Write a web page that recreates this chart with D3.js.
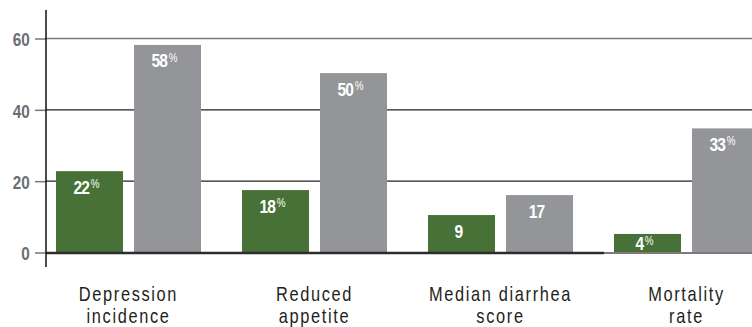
<!DOCTYPE html>
<html>
<head>
<meta charset="utf-8">
<script src="https://cdn.jsdelivr.net/npm/d3@7"></script>
<style>
  body { margin: 0; background: #fff; }
  svg { display: block; }
</style>
</head>
<body>
<div id="chart"></div>
<script>
// categories, two lines each
categories = ["Depression incidence", "Reduced appetite", "Median diarrhea score", "Mortality rate"]
categoryLines = [["Depression", "incidence"], ["Reduced", "appetite"], ["Median diarrhea", "score"], ["Mortality", "rate"]]
series = ["green", "gray"]

// bar heights
greenValues = [22.8, 17.5, 10.5, 5.2]
grayValues = [58.2, 50.3, 16.1, 34.8]

// labels printed on the bars
greenLabels = [["22", "%"], ["18", "%"], ["9", ""], ["4", "%"]]
grayLabels = [["58", "%"], ["50", "%"], ["17", ""], ["33", "%"]]

yTicks = [0, 20, 40, 60]

chart = {
  width: 752,
  height: 327,
  axisX: 46,
  zeroY: 252.5,
  topY: 38.5,
  squeeze: 0.82, // fake a condensed face
  font: "'Liberation Sans', Arial, sans-serif",
  colors: { green: "#477137", gray: "#939598" }
}

svg = d3.select("#chart").append("svg").attr("width", chart.width).attr("height", chart.height)

let y = d3.scaleLinear().domain([0, 60]).range([chart.zeroY, chart.topY])
let x0 = d3.scaleBand().domain(categories).range([chart.axisX, chart.axisX + 4 * 186])
let x1 = d3.scaleBand().domain(series).range([10, 155]).paddingInner(0.141)

// gridlines behind the bars
svg.append("g").attr("class", "grid")
  .selectAll("line")
  .data(yTicks.filter(d => d > 0))
  .enter()
  .append("line")
  .attr("x1", chart.axisX)
  .attr("x2", chart.width)
  .attr("y1", d => y(d))
  .attr("y2", d => y(d))
  .attr("stroke", d => d == 60 ? "#7b7b7b" : "#222")
  .attr("stroke-width", d => d == 60 ? 1.5 : 1.2);

// y axis ticks + labels
let yAxis = d3.axisLeft(y).tickValues(yTicks).tickSize(11).tickPadding(8)
let axisG = svg.append("g").attr("transform", "translate(" + chart.axisX + ",0)").call(yAxis)
axisG.select(".domain").remove()
axisG.selectAll(".tick line").attr("stroke", "#777").attr("stroke-width", 1.5)
axisG.selectAll(".tick text")
  .attr("fill", "#6d6e71")
  .attr("transform", "scale(0.85,1)")
  .style("font-family", chart.font)
  .style("font-weight", "bold")
  .style("font-size", "18px")
  .attr("dy", "0.4em");

// bars
let rows = categories.map((c, i) => ({
  category: c,
  bars: [
    {series: "green", value: greenValues[i], label: greenLabels[i]},
    {series: "gray", value: grayValues[i], label: grayLabels[i]}
  ]
}))

let groups = svg.selectAll(".group")
  .data(rows)
  .enter()
  .append("g")
  .attr("class", "group")
  .attr("transform", d => "translate(" + x0(d.category) + ",0)")

groups.selectAll("rect")
  .data(d => d.bars)
  .enter()
  .append("rect")
  .attr("x", d => x1(d.series))
  .attr("y", d => y(d.value))
  .attr("width", x1.bandwidth())
  .attr("height", d => y(0) - y(d.value))
  .attr("fill", d => chart.colors[d.series]);

let valueText = groups.selectAll(".value-label")
  .data(d => d.bars)
  .enter()
  .append("g")
  .attr("class", "value-label")
  .attr("transform", d => "translate(" + (x1(d.series) + x1.bandwidth() / 2 - 3) + "," + Math.min(y(d.value) + 22.5, y(0) - 2.5) + ")")
  .append("text")
  .attr("transform", "scale(" + chart.squeeze + ",1)")
  .attr("text-anchor", "middle")
  .attr("fill", "#fff")
  .style("font-family", chart.font)
  .style("font-weight", "bold")
  .style("font-size", "19px")
  .style("letter-spacing", "-1px")

valueText.append("tspan").text(d => d.label[0])
valueText.append("tspan")
  .attr("dx", 2)
  .attr("dy", "-0.45em")
  .style("font-size", "12px")
  .style("font-weight", "normal")
  .style("letter-spacing", "0px")
  .text(d => d.label[1]);

// baseline, dark then light past the last group start
let splitX = x0(categories[3])
svg.append("line")
  .attr("x1", chart.axisX).attr("x2", splitX)
  .attr("y1", y(0) + 0.5).attr("y2", y(0) + 0.5)
  .attr("stroke", "#2d2d2d").attr("stroke-width", 2.5)
svg.append("line")
  .attr("x1", splitX).attr("x2", chart.width)
  .attr("y1", y(0) + 0.5).attr("y2", y(0) + 0.5)
  .attr("stroke", "#7b7b7b").attr("stroke-width", 2)

// vertical axis line
svg.append("line")
  .attr("x1", chart.axisX).attr("x2", chart.axisX)
  .attr("y1", 10).attr("y2", 267)
  .attr("stroke", "#111").attr("stroke-width", 1.5)

// category labels
let catText = svg.selectAll(".cat-label")
  .data(rows)
  .enter()
  .append("g")
  .attr("class", "cat-label")
  .attr("transform", d => "translate(" + (x0(d.category) + 82.5) + ",0)")
  .append("text")
  .attr("transform", "scale(" + chart.squeeze + ",1)")
  .attr("text-anchor", "middle")
  .attr("fill", "#231f20")
  .style("font-family", chart.font)
  .style("font-size", "20px")
  .style("letter-spacing", "2px")

catText.selectAll("tspan")
  .data((d, i) => categoryLines[i])
  .enter()
  .append("tspan")
  .attr("x", 0)
  .attr("y", (d, i) => 301 + i * 22)
  .text(d => d);
</script>
</body>
</html>
